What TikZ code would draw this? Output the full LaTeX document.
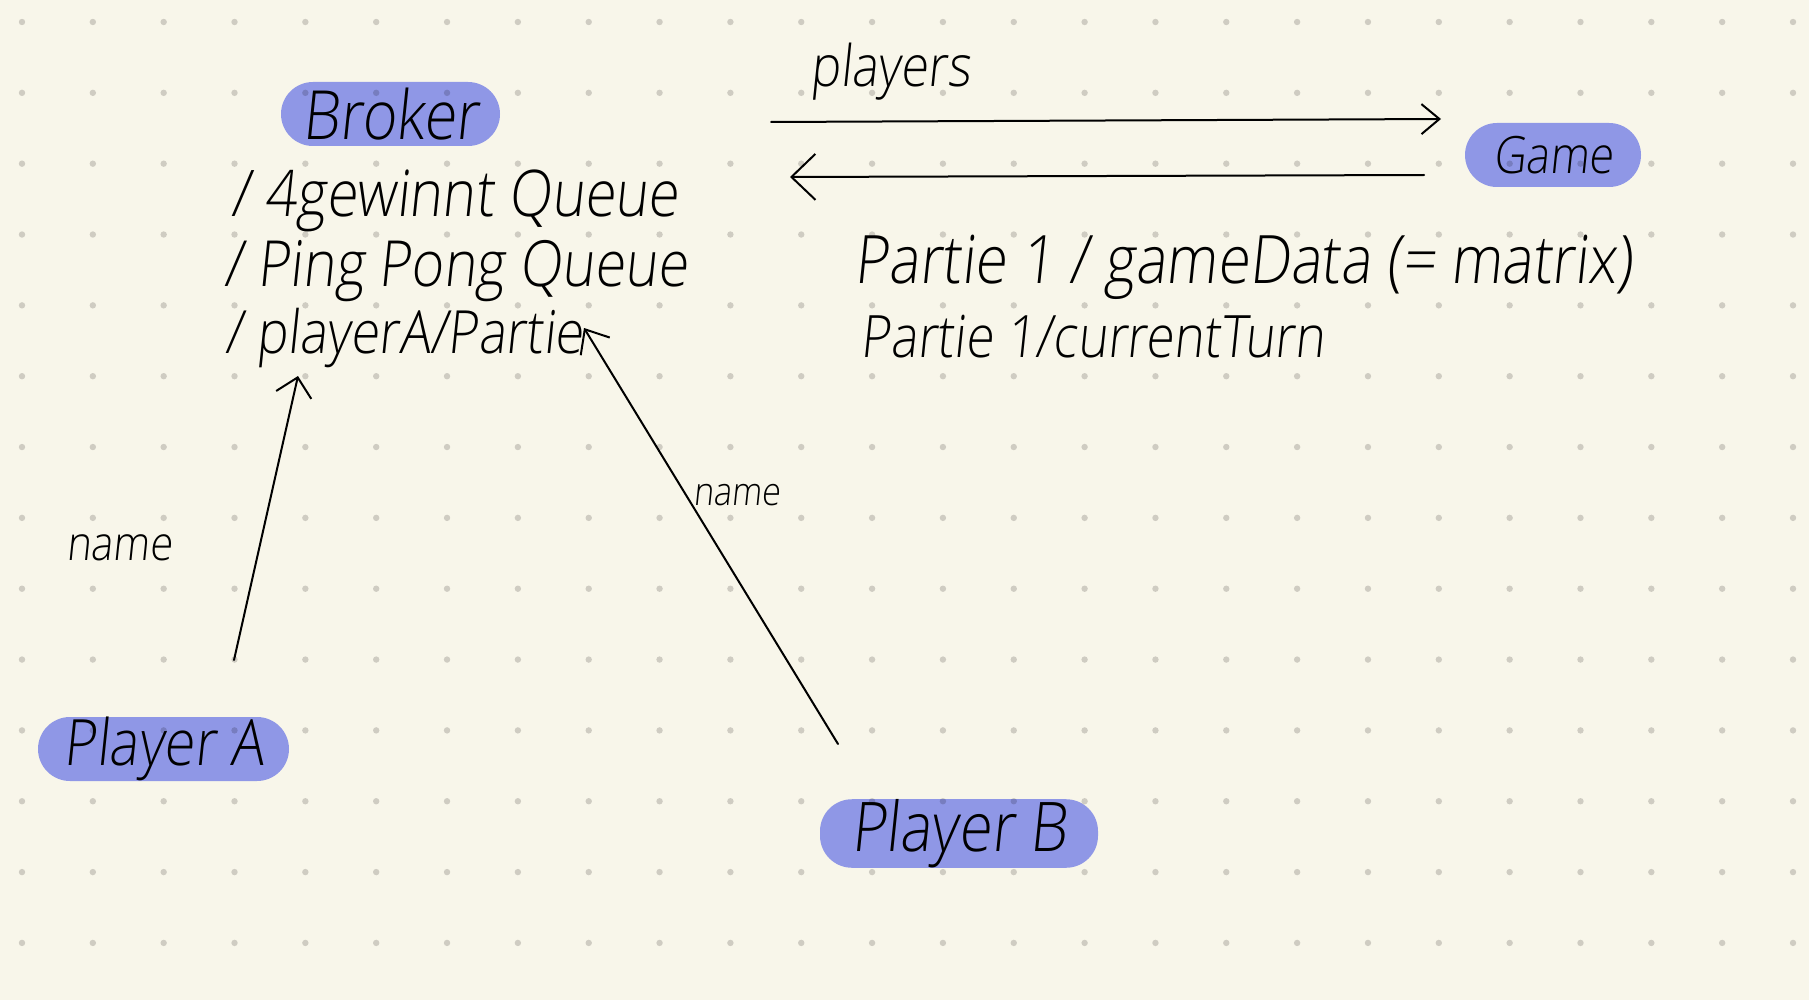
\documentclass[tikz,border=0pt]{standalone}
\usepackage{fontspec}
\usepackage{graphicx}
\IfFontExistsTF{Open Sans Light}
  {\setmainfont{Open Sans Light}[FakeSlant=0.12]}
  {\setmainfont{Open Sans}[FakeSlant=0.12]}
\usetikzlibrary{arrows.meta,calc}
\definecolor{bg}{RGB}{248,246,234}
\definecolor{pillc}{RGB}{143,151,230}
\definecolor{dotc}{RGB}{213,212,212}
\newcommand{\hw}[2]{\resizebox{#1}{!}{\scalebox{1}[1.15]{#2}}}
\begin{document}
\begin{tikzpicture}[x=0.5pt,y=-0.5pt,
  pillbox/.style={fill=pillc, rounded corners=16pt, minimum height=32pt, inner sep=0pt, text=black},
  hand/.style={inner sep=0pt, anchor=base west, text=black},
  conn/.style={line width=1pt, draw=black, line cap=round, line join=round}
]
\useasboundingbox[fill=bg] (0,0) rectangle (1809,1000);

% pills
\node[pillbox, minimum width=109.5pt] (broker) at (390.5,114) {\hw{88pt}{Broker}};
\node[pillbox, minimum width=88pt] (game) at (1553,155) {\hw{60pt}{Game}};
\node[pillbox, minimum width=125.5pt] (pA) at (163.5,749) {\hw{100pt}{Player A}};
\node[pillbox, minimum width=139pt, minimum height=31.5pt] (pB) at (959,833.5) {\hw{108pt}{Player B}};

% broker topics
\node[hand] (item1) at (231,217) {\hw{223.5pt}{/ 4gewinnt Queue}};
\node[hand] (item2) at (224,287) {\hw{231.5pt}{/ Ping Pong Queue}};
\node[hand] (item3) at (225,353) {\hw{179pt}{/ playerA/Partie}};

% game topics
\node[hand] (players) at (810,87) {\hw{80pt}{players}};
\node[hand] (gd) at (854,283) {\hw{389pt}{Partie 1 / gameData (= matrix)}};
\node[hand] (ct) at (860,357) {\hw{232pt}{Partie 1/currentTurn}};

% labels
\node[hand] (nameA) at (66,560) {\hw{53pt}{name}};
\node[hand] (nameB) at (693,505) {\hw{43.5pt}{name}};

% connector end points
\coordinate (sA) at (234,660);
\coordinate (tA) at (298,376);
\coordinate (sB) at (838,744);
\coordinate (tB) at (584,328);
\coordinate (r1) at (771,122);
\coordinate (r2) at (1441,119);
\coordinate (l1) at (1424,175);
\coordinate (l2) at (790,177);

\draw[conn, -{Straight Barb[length=9pt, width=18pt]}] (sA) -- (tA);
\draw[conn, -{Straight Barb[length=10pt, width=17pt]}] (sB) -- (tB);
\draw[conn, -{Straight Barb[length=9pt, width=15pt]}] (r1) -- (r2);
\draw[conn, -{Straight Barb[length=12pt, width=23pt]}] (l1) -- (l2);

% dot grid
\begin{scope}[blend mode=multiply]
\foreach \i in {0,...,25}{
  \foreach \j in {0,...,13}{
    \fill[dotc] (22+70.84*\i, 22+70.84*\j) circle (1.6pt);
  }
}
\end{scope}
\end{tikzpicture}
\end{document}
